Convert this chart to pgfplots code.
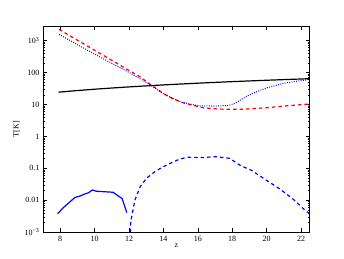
\documentclass[border=0pt]{standalone}
\usepackage{fontspec}
\setmainfont{Liberation Serif}
\usepackage{pgfplots}
\pgfplotsset{compat=1.18}
\begin{document}
\begin{tikzpicture}
\useasboundingbox (0,0) rectangle (344pt,258pt);
\begin{axis}[
  at={(43pt,25.8pt)}, anchor=south west,
  width=266.6pt, height=206.4pt, scale only axis,
  ymode=log, xmin=7, xmax=22.5, ymin=1e-3, ymax=2900,
  xtick={8,10,12,14,16,18,20,22},
  ytick={1e-3,1e-2,1e-1,1,10,100,1000},
  yticklabels={10\textsuperscript{−3},0.01,0.1,1,10,100,10\textsuperscript{3}},
  /pgf/number format/assume math mode=true,
  tick align=inside, major tick length=4pt, minor tick length=2pt,
  tick style={black, line width=0.5pt},
  axis line style={line width=0.6pt},
  ticklabel style={font=\fontsize{8}{9}\selectfont},
  xlabel={z}, ylabel={T[K]},
  every axis x label/.style={at={(axis description cs:0.5,0)}, yshift=-13.5pt, anchor=center, font=\fontsize{8}{9}\selectfont},
  every axis y label/.style={at={(axis description cs:0,0.5)}, xshift=-26.5pt, rotate=90, anchor=center, font=\fontsize{8}{9}\selectfont},
]
% CMB temperature
\addplot[black, line width=1.2pt] coordinates {
(7.9,24.25) (9,27.25) (10,29.98) (11,32.70) (12,35.43) (13,38.15) (14,40.88) (15,43.60) (16,46.33) (17,49.05) (18,51.78) (19,54.50) (20,57.23) (21,59.95) (22,62.68) (22.5,64.04)};
% red dashed
\addplot[red, line width=1.2pt, dash pattern=on 3.5pt off 3pt] coordinates {
(7.93,2240) (9,1030) (10,498) (11,241) (12,116) (12.63,74) (13.3,40.5) (14,22) (14.5,15.5) (15.14,11.3) (15.5,10) (16.3,7.9) (17,7.3) (17.5,7.1) (18,7.05) (18.5,7.05) (19,7.3) (20,7.9) (21,8.9) (22.45,10.3)};
% blue dotted
\addplot[blue, line width=1pt, dash pattern=on 0.9pt off 1.4pt] coordinates {
(7.93,1560) (9,740) (10,378) (11,195) (12,101) (12.8,57) (13.3,39) (14,21.4) (15,12) (16,9.1) (17,8.9) (17.8,9.3) (18.2,11.2) (18.5,14) (19,20) (19.5,26) (20,33) (21,46) (22,56) (22.45,60)};
% blue solid
\addplot[blue, line width=1.2pt] coordinates {
(7.85,0.0038) (8.17,0.0058) (8.85,0.0122) (9.15,0.0136) (9.42,0.0157) (9.65,0.0172) (9.87,0.021) (10.1,0.0192) (11.07,0.0178) (11.6,0.0113) (11.87,0.0041)};
% blue dashed
\addplot[blue, line width=1.2pt, dash pattern=on 3.5pt off 3pt] coordinates {
(12.08,0.001) (12.1,0.0021) (12.34,0.0100) (12.65,0.0265) (13.01,0.0487) (13.5,0.078) (13.95,0.11) (14.6,0.161) (14.95,0.195) (15.4,0.221) (16.3,0.219) (17.07,0.231) (17.85,0.206) (18.23,0.15) (18.5,0.12) (19.1,0.088) (19.97,0.043) (20.8,0.022) (21.6,0.0102) (22.3,0.0045) (22.45,0.0040)};
\end{axis}
\end{tikzpicture}
\end{document}
